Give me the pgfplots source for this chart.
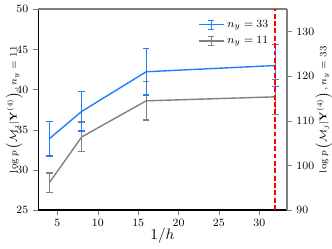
\documentclass[border=0pt]{standalone}
\usepackage{pgfplots}
\pgfplotsset{compat=1.18}
\definecolor{myblue}{RGB}{35,125,255}
\definecolor{mygray}{RGB}{128,128,128}
\definecolor{vred}{RGB}{255,0,0}
\begin{document}
\begin{tikzpicture}
\pgfplotsset{
  common/.style={
    width=179pt, height=144.5pt, scale only axis,
    xmin=2.6, xmax=33.4,
    tick align=outside, major tick length=3.5pt,
    tick label style={font=\fontsize{8}{9}\selectfont},
    label style={font=\fontsize{7}{8}\selectfont},
  },
}
\begin{axis}[common,
  ymin=25, ymax=50,
  axis x line*=bottom, axis y line*=left,
  xtick={5,10,...,30}, ytick={25,30,...,50},
  axis line style={black, line width=0.8pt},
  xlabel={$1/h$},
  xlabel style={font=\fontsize{11}{12}\selectfont, at={(axis description cs:0.5,-0.13)}, anchor=center},
  ylabel={$\log p\left(\mathcal{M}_j|\mathbf{Y}^{(4)}\right), n_y=11$},
  ylabel style={at={(axis description cs:-0.096,0.5)}, anchor=center},
]
\coordinate (sw) at (rel axis cs:0,0);
\addplot[mygray, line width=1pt,
  error bars/.cd, y dir=both, y explicit,
  error bar style={mygray, line width=0.9pt},
  error mark options={rotate=90, mygray, mark size=2.3pt, line width=0.9pt}]
  coordinates {
  (4,28.4) +- (0,1.2)
  (8,34.1) +- (0,1.85)
  (16,38.6) +- (0,2.4)
  (32,39.1) +- (0,2.2)
  };
\end{axis}
\begin{axis}[common,
  ymin=90, ymax=135,
  axis x line*=top, axis y line*=right,
  xtick=\empty, ytick={90,100,...,130},
  axis line style={mygray, line width=1.4pt},
  ylabel={$\log p\left(\mathcal{M}_j|\mathbf{Y}^{(4)}\right), n_y=33$},
  ylabel style={at={(axis description cs:1.15,0.5)}, anchor=center, rotate=0},
  legend style={draw=none, fill=none, at={(rel axis cs:0.955,0.975)}, anchor=north east,
    font=\fontsize{8}{9}\selectfont, row sep=1pt},
  legend cell align=left,
]
\addplot[myblue, line width=1pt,
  legend image code/.code={
    \draw[myblue, line width=1pt] (0pt,0pt) -- (18pt,0pt);
    \draw[myblue, line width=0.9pt] (9pt,-3.3pt) -- (9pt,3.3pt);
    \draw[myblue, line width=0.9pt] (6.8pt,-3.3pt) -- (11.2pt,-3.3pt);
    \draw[myblue, line width=0.9pt] (6.8pt,3.3pt) -- (11.2pt,3.3pt);
  },
  error bars/.cd, y dir=both, y explicit,
  error bar style={myblue, line width=0.9pt},
  error mark options={rotate=90, myblue, mark size=2.3pt, line width=0.9pt}]
  coordinates {
  (4,106.0) +- (0,3.9)
  (8,112.1) +- (0,4.4)
  (16,121.0) +- (0,5.2)
  (32,122.4) +- (0,4.7)
  };
\addlegendentry{$n_y=33$}
\addlegendimage{mygray, line width=1pt,
  legend image code/.code={
    \draw[mygray, line width=1pt] (0pt,0pt) -- (18pt,0pt);
    \draw[mygray, line width=0.9pt] (9pt,-3.3pt) -- (9pt,3.3pt);
    \draw[mygray, line width=0.9pt] (6.8pt,-3.3pt) -- (11.2pt,-3.3pt);
    \draw[mygray, line width=0.9pt] (6.8pt,3.3pt) -- (11.2pt,3.3pt);
  }}
\addlegendentry{$n_y=11$}
\draw[vred, line width=1.4pt, dash pattern=on 3.5pt off 1.8pt]
  (axis cs:32,90) -- (axis cs:32,135);
\end{axis}
\pgfresetboundingbox
\path (sw) ++(-27.4pt,-27.4pt) rectangle ++(239pt,178.6pt);
\end{tikzpicture}
\end{document}
